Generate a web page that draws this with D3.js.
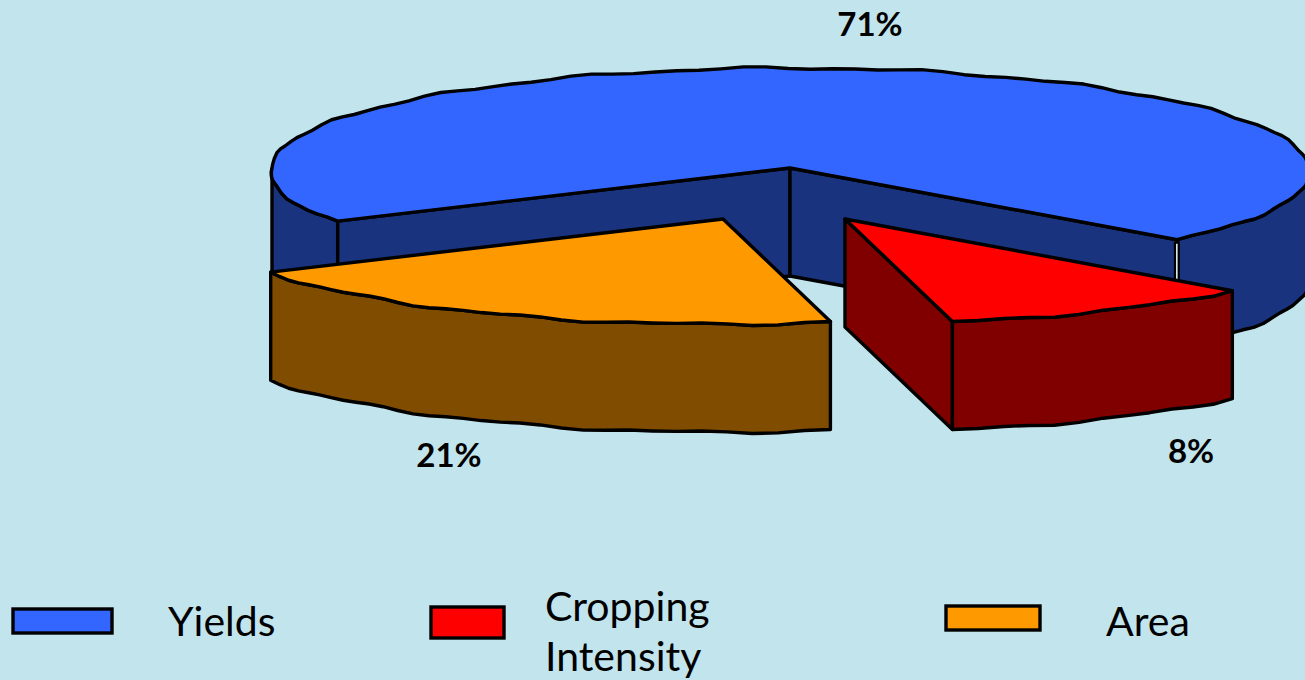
<!DOCTYPE html>
<html>
<head>
<meta charset="utf-8">
<title>Sources of growth</title>
<script src="https://cdn.jsdelivr.net/npm/d3@7"></script>
<style>
  html, body { margin: 0; padding: 0; background: #c2e4ed; overflow: hidden; }
  svg { display: block; }
  text { font-family: Lato, "Open Sans", sans-serif; fill: #000; }
</style>
</head>
<body>
<svg id="chart" width="1305" height="680"></svg>
<script>
// Share of growth by source
const categories = ["Yields", "Cropping Intensity", "Area"];
const shares = [71, 8, 21];
const topColors = ["#3366ff", "#ff0000", "#ff9900"];
const wallColors = ["#19337f", "#800000", "#804d00"];

// View of the tilted disc
const rad = d => d * Math.PI / 180;
const hub = { x: 790, y: 168 };
const rx = 518, ry = 100, depth = 108;
const nearGrowth = 0.052;     // front of the disc sits closer to the eye
const firstAngle = rad(238.2);
const nearStretch = rad(7.9); // extra widening of the near arc's first slices
const outlineWidth = 3.4;

const svg = d3.select("#chart");
const pie = d3.pie().value(d => d).sort(null)
  .startAngle(firstAngle).endAngle(firstAngle + 2 * Math.PI);
const arcs = pie(shares);

// The two exploded slices span the near arc of the disc
const nearStart = arcs[1].startAngle, nearEnd = arcs[2].endAngle;
const explode = [{ x: 0, y: 0 }, { x: 55, y: 51 }, { x: -67, y: 51 }];

function screenAngle(a) {
  if (a <= nearStart || a >= nearEnd) return a;
  return a + nearStretch * Math.sin(Math.PI * (a - nearStart) / (nearEnd - nearStart));
}

// Position on the rim relative to the slice's apex, with the slightly rough
// outline of a coarsely tessellated edge
function rimPoint(a) {
  const t = screenAngle(a);
  const k = 1 + nearGrowth * Math.max(0, -Math.cos(t));
  const edge = 1.0 * Math.sin(t * 19) + 0.7 * Math.sin(t * 37 + 1);
  return { x: rx * k * Math.sin(t), y: ry * k * -Math.cos(t) + edge };
}

function rimSamples(a0, a1) {
  const n = Math.max(2, Math.ceil((a1 - a0) / rad(2.5)));
  return d3.range(n + 1).map(i => a0 + (a1 - a0) * i / n);
}

const line = d3.line().x(d => d.x).y(d => d.y);
const closed = pts => line(pts) + "Z";
const at = (o, p, dy = 0) => ({ x: o.x + p.x, y: o.y + p.y + dy });

function drawFace(pts, fill) {
  svg.append("path").attr("d", closed(pts)).attr("fill", fill)
    .attr("stroke", "#000").attr("stroke-width", outlineWidth).attr("stroke-linejoin", "round");
}

// Outer wall under a stretch of rim
function rimWall(o, a0, a1, fill) {
  const top = rimSamples(a0, a1).map(a => at(o, rimPoint(a)));
  const bottom = top.slice().reverse().map(p => ({ x: p.x, y: p.y + depth }));
  drawFace(top.concat(bottom), fill);
}

// Flat wall from the apex out to one rim angle
function radialWall(o, a, fill) {
  const r = at(o, rimPoint(a));
  drawFace([
    { x: o.x, y: o.y }, r,
    { x: r.x, y: r.y + depth }, { x: o.x, y: o.y + depth }
  ], fill);
}

function topFace(o, a0, a1, fill) {
  const rim = rimSamples(a0, a1).map(a => at(o, rimPoint(a)));
  drawFace([{ x: o.x, y: o.y }].concat(rim), fill);
}

// Yields: the large slice stays at the hub
const yields = arcs[0];
const yieldsEnd = yields.endAngle - 2 * Math.PI;
rimWall(hub, yields.startAngle, rad(270), wallColors[0]);
radialWall(hub, yields.startAngle, wallColors[0]);
radialWall(hub, yieldsEnd, wallColors[0]);
rimWall(hub, rad(90), yieldsEnd, wallColors[0]);

// Narrow seam where the right-hand walls meet
const seam = at(hub, rimPoint(yieldsEnd));
svg.append("line").attr("x1", seam.x - 0.5).attr("x2", seam.x - 0.5)
  .attr("y1", seam.y + 2).attr("y2", seam.y + depth - 50)
  .attr("stroke", "#000").attr("stroke-width", 6);
svg.append("line").attr("x1", seam.x - 0.5).attr("x2", seam.x - 0.5)
  .attr("y1", seam.y + 4).attr("y2", seam.y + depth - 50)
  .attr("stroke", "#dfeef2").attr("stroke-width", 1.6);

topFace(hub, yields.startAngle, yields.endAngle, topColors[0]);

// Area: exploded to the lower left
const area = arcs[2], oArea = { x: hub.x + explode[2].x, y: hub.y + explode[2].y };
rimWall(oArea, area.startAngle, area.endAngle, wallColors[2]);
topFace(oArea, area.startAngle, area.endAngle, topColors[2]);

// Cropping Intensity: exploded to the lower right
const crop = arcs[1], oCrop = { x: hub.x + explode[1].x, y: hub.y + explode[1].y };
radialWall(oCrop, crop.endAngle, wallColors[1]);
rimWall(oCrop, crop.startAngle, crop.endAngle, wallColors[1]);
topFace(oCrop, crop.startAngle, crop.endAngle, topColors[1]);

// Percentage labels
const labelSpots = [{ x: 870, y: 36 }, { x: 1191, y: 463 }, { x: 449, y: 467 }];
shares.forEach((v, i) => {
  svg.append("text").attr("x", labelSpots[i].x).attr("y", labelSpots[i].y)
    .attr("text-anchor", "middle").attr("font-weight", 700)
    .attr("font-size", 33).text(v + "%");
});

// Legend
const legendBoxes = [
  { x: 13, y: 609, w: 99, h: 24 },
  { x: 431, y: 607, w: 73, h: 31 },
  { x: 946, y: 606, w: 94, h: 24 }
];
const legendLabels = [
  { x: 168, lines: [{ t: "Yields", y: 636 }] },
  { x: 545, lines: [{ t: "Cropping", y: 621 }, { t: "Intensity", y: 671 }] },
  { x: 1106, lines: [{ t: "Area", y: 636 }] }
];
categories.forEach((c, i) => {
  const b = legendBoxes[i];
  svg.append("rect").attr("x", b.x).attr("y", b.y).attr("width", b.w).attr("height", b.h)
    .attr("fill", topColors[i]).attr("stroke", "#000").attr("stroke-width", outlineWidth);
  legendLabels[i].lines.forEach(l => {
    svg.append("text").attr("x", legendLabels[i].x).attr("y", l.y)
      .attr("font-size", 41).text(l.t);
  });
});
</script>
</body>
</html>
